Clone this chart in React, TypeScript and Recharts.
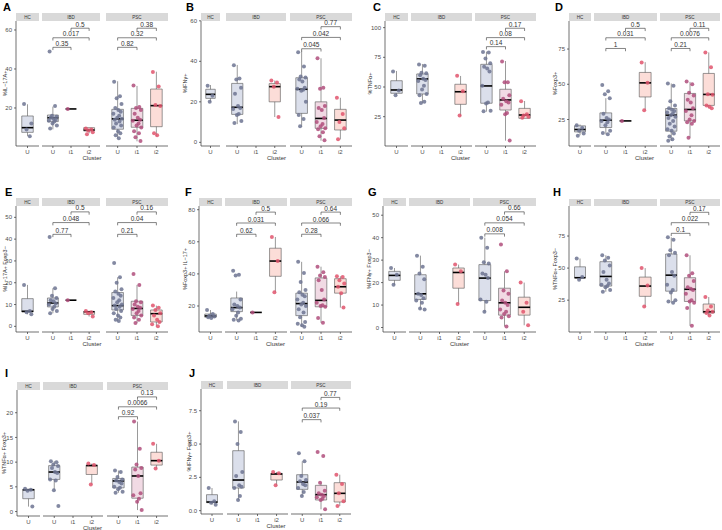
import React from 'react';
import { ComposedChart, Scatter, XAxis, YAxis, ReferenceArea, ReferenceLine } from 'recharts';

const FONT = '"Liberation Sans", Arial, Helvetica, sans-serif';
const FACET_NAMES = ['HC', 'IBD', 'PSC'];
const FACET_CATS = [['U'], ['U', 'i1', 'i2'], ['U', 'i1', 'i2']];
// group order: HC-U, IBD-U, IBD-i1, IBD-i2, PSC-U, PSC-i1, PSC-i2
const GROUP_SLOTS = [[0, 0], [1, 0], [1, 1], [1, 2], [2, 0], [2, 1], [2, 2]];
const JITTER = [-0.18, 0.12, -0.05, 0.2, -0.12, 0.04, 0.16, -0.22, 0.08, -0.02, 0.22, -0.15, 0.1, -0.08, 0.18, -0.2, 0.02, 0.14, -0.1, 0.06, -0.16];
const FILL: Record<string, string> = { U: '#d5d9e7', i1: '#efd3df', i2: '#fbd7d1' };
const DOT: Record<string, string> = { U: '#6d7492', i1: '#b04f7d', i2: '#e0556d' };

// ---------- Panel A ----------
const A_domain = [0.5, 64.6];
const A_ticks = [20, 40, 60];
const A_points = [
  [22, 5.5, 9, 12],
  [49, 21, 16, 15.5, 15, 14.5, 14, 13.5, 13, 12, 11, 9.5],
  [19.5],
  [9.5, 9, 8.5, 7.5, 6.5],
  [33.5, 26, 25, 22, 20, 19, 18, 17, 16, 15, 14.5, 14, 13, 12, 11, 10, 8, 7, 6, 4.5],
  [31.5, 20.5, 20, 19, 17, 15, 14, 13.5, 12, 11, 10, 8, 7, 5, 3],
  [38.5, 31, 21.5, 21, 7, 6],
];
const A_boxes = [
  [5.6, 7.5, 9.9, 15.9, 21.9],
  [9, 13, 15, 16.4, 20.7],
  [19.5, 19.5, 19.5, 19.5, 19.5],
  [7, 8.2, 8.7, 9.9, 9.9],
  [4.5, 9.1, 14.4, 19.3, 33.7],
  [2.9, 10.1, 13.7, 19.8, 31.3],
  [5.6, 10.4, 21.2, 29.7, 38.6],
];
const A_brackets: [number, number, number, number, string][] = [
  [1, 0, 1, 51.1, '0.35'], [1, 0, 2, 56, '0.017'], [1, 1, 2, 60.9, '0.5'],
  [2, 0, 1, 51.1, '0.82'], [2, 0, 2, 56, '0.32'], [2, 1, 2, 60.9, '0.38'],
];

// ---------- Panel B ----------
const B_domain = [-1.8, 59.9];
const B_ticks = [0, 20, 40, 60];
const B_points = [
  [28, 23, 20],
  [38, 31.5, 31, 27, 24, 18, 17, 16.5, 14, 13.5, 10.5, 9.5],
  [],
  [30.5, 29.5, 27.5, 12.5],
  [44.5, 37.5, 32.5, 32, 31, 30, 27, 26.5, 26, 25.5, 20, 13.5, 11.5, 8],
  [41.5, 27, 26.5, 18, 17, 16, 12, 10, 9, 8, 7, 6.5, 5, 3, 1],
  [22, 14, 10, 7, 1.5],
];
const B_boxes = [
  [20, 21.7, 23.7, 26.2, 28.3],
  [9, 13.8, 17.3, 29.1, 38.2],
  null,
  [12.5, 20, 27.5, 29, 30.5],
  [7.7, 14.3, 26.2, 31.9, 45.2],
  [0.8, 6.9, 11.8, 20, 41.5],
  [1.5, 6.1, 11, 16.3, 22],
];
const B_brackets: [number, number, number, number, string][] = [
  [2, 0, 1, 46.2, '0.045'], [2, 0, 2, 51.8, '0.042'], [2, 1, 2, 57.1, '0.77'],
];

// ---------- Panel C ----------
const C_domain = [0.3, 105.6];
const C_ticks = [25, 50, 75, 100];
const C_points = [
  [63, 47, 43],
  [69, 68, 62, 61.5, 60, 57, 56, 55, 51, 48, 44, 43, 37.5, 36.5],
  [],
  [59.5, 46.5, 26],
  [79.5, 79, 74, 70, 67, 65.5, 63, 51, 37, 36, 30, 29.5],
  [71.5, 54, 54, 43, 40, 38, 37, 35, 28, 27, 5],
  [38, 27, 26, 25, 24],
];
const C_boxes = [
  [43, 44.7, 47.5, 55.3, 63.5],
  [36.3, 44.1, 56.8, 61, 69.4],
  null,
  [25.6, 35.4, 46, 52.3, 59.3],
  [29.2, 36.3, 50.9, 69.1, 79.8],
  [4.8, 30.6, 39.1, 48.1, 71.9],
  [23.6, 23.6, 26.4, 32, 38.2],
];
const C_brackets: [number, number, number, number, string][] = [
  [2, 0, 1, 84, '0.14'], [2, 0, 2, 91.6, '0.08'], [2, 1, 2, 99.5, '0.17'],
];

// ---------- Panel D ----------
const D_domain = [6.2, 94.9];
const D_ticks = [25, 50, 75];
const D_points = [
  [21, 19, 17, 15, 13.5],
  [49.5, 45, 43, 40, 29, 26, 25, 24, 23, 21, 17, 15.5, 14.5],
  [24],
  [65.5, 51, 31.5],
  [50.5, 49, 38, 35, 33, 32, 31, 30, 29, 28, 27, 26, 24, 22, 20, 18, 17, 15, 13, 11, 10],
  [52, 50, 44, 42, 39, 37, 33, 31, 28, 25, 24, 23, 22, 12],
  [72.5, 62, 43, 42.5, 35, 34, 33],
];
const D_boxes = [
  [13.8, 16.2, 17.9, 20.5, 21.5],
  [14.6, 19.3, 24.5, 29.7, 40.1],
  [24, 24, 24, 24, 24],
  [31.6, 41, 51, 58.4, 65.7],
  [9.8, 16.7, 28.1, 32.8, 50.6],
  [12.2, 24, 32.1, 43.5, 51.7],
  [33, 35, 42.8, 57.7, 72.6],
];
const D_brackets: [number, number, number, number, string][] = [
  [1, 0, 1, 75.4, '1'], [1, 0, 2, 83, '0.031'], [1, 1, 2, 89.7, '0.5'],
  [2, 0, 1, 75.4, '0.21'], [2, 0, 2, 83, '0.0076'], [2, 1, 2, 89.7, '0.11'],
];

// ---------- Panel E ----------
const E_domain = [-2.6, 55.2];
const E_ticks = [0, 10, 20, 30, 40, 50];
const E_points = [
  [19, 7, 6.5, 5.5],
  [41, 17.5, 14, 13, 12, 11.5, 10.5, 10, 9, 8, 7, 6],
  [12],
  [7, 6.5, 6, 4.5],
  [29, 22.5, 20, 17, 16, 15, 14, 13, 12, 11, 10, 9.5, 9, 8, 7, 6, 5, 4, 3, 2.5],
  [24, 19, 11.5, 11, 10, 9, 8.5, 8, 7, 6, 5, 4, 3, 1.5],
  [9.5, 8.5, 7.5, 6, 5, 3, 2, 1, 0],
];
const E_boxes = [
  [5.5, 6.6, 6.9, 12.7, 19],
  [6, 8.9, 10.7, 13, 17.5],
  [12, 12, 12, 12, 12],
  [4.5, 5.5, 6.7, 6.8, 7],
  [2.5, 7.5, 9.5, 15.5, 22.5],
  [1.5, 5, 8.2, 11.5, 19],
  [0, 2, 5.8, 7.5, 9.5],
];
const E_brackets: [number, number, number, number, string][] = [
  [1, 0, 1, 42.2, '0.77'], [1, 0, 2, 47.6, '0.048'], [1, 1, 2, 52.5, '0.5'],
  [2, 0, 1, 42.2, '0.21'], [2, 0, 2, 47.6, '0.04'], [2, 1, 2, 52.5, '0.16'],
];

// ---------- Panel F ----------
const F_domain = [3.8, 82.3];
const F_ticks = [20, 40, 60, 80];
const F_points = [
  [17.5, 15, 14, 13.5, 13, 12.5],
  [42, 39.5, 39, 24, 21, 20, 19, 18, 16, 14, 12, 11.5, 11],
  [16],
  [63, 48, 28.5],
  [47.5, 40.5, 35, 30, 28.5, 27, 26, 24, 22, 21, 20, 18, 16, 13, 10, 9, 8, 7],
  [44.5, 41, 39, 38, 36, 30, 24, 22, 20.5, 20, 19.5, 12.5, 9.5],
  [38.5, 38, 36, 34, 32, 28, 19],
];
const F_boxes = [
  [12.5, 13, 13.8, 15, 17.5],
  [11, 16.5, 19, 25, 29],
  [16, 16, 16, 16, 16],
  [28.5, 38.5, 48, 56, 63],
  [7, 14, 21.5, 28, 47.5],
  [9.5, 19.5, 23.5, 37.5, 44.5],
  [19, 28, 32, 37, 38.5],
];
const F_brackets: [number, number, number, number, string][] = [
  [1, 0, 1, 64.7, '0.62'], [1, 0, 2, 71.7, '0.031'], [1, 1, 2, 78.5, '0.5'],
  [2, 0, 1, 64.7, '0.28'], [2, 0, 2, 71.7, '0.066'], [2, 1, 2, 78.5, '0.64'],
];

// ---------- Panel G ----------
const G_domain = [-2, 54.1];
const G_ticks = [0, 10, 20, 30, 40, 50];
const G_points = [
  [26.5, 23.5, 19],
  [32, 27, 24, 21.5, 15, 14.5, 13, 12, 11, 8.5, 8],
  [],
  [28, 25, 10.5],
  [40, 35.5, 29, 28.5, 24, 23.5, 22, 12.5, 11.5, 7],
  [37, 25, 16.5, 15, 12, 11, 10, 8, 7, 6, 5, 4.5, 0.5],
  [20, 11, 7, 1],
];
const G_boxes = [
  [19, 21, 23.2, 25, 26.5],
  [8, 12.5, 15, 23.5, 32],
  null,
  [10.5, 17.5, 24.5, 26.5, 28],
  [7, 12, 22, 28, 40],
  [0.5, 5.5, 11, 17.5, 25],
  [1, 5.5, 9, 13.5, 20],
];
const G_brackets: [number, number, number, number, string][] = [
  [2, 0, 1, 41.7, '0.008'], [2, 0, 2, 46.6, '0.054'], [2, 1, 2, 51.5, '0.66'],
];

// ---------- Panel H ----------
const H_domain = [0.2, 98.4];
const H_ticks = [25, 50, 75];
const H_points = [
  [57.5, 43, 41],
  [60, 58, 56, 52, 47, 41, 38, 37, 36, 35, 33, 31.5],
  [],
  [50, 36.5, 20],
  [74, 72, 64, 62, 60, 47, 44, 37, 33, 31, 25, 24, 23],
  [60, 46, 44, 40, 35, 34, 33, 30, 25, 24, 23, 19, 5],
  [27.5, 20, 17, 16, 15, 13],
];
const H_boxes = [
  [41, 42.5, 42.5, 51, 57.5],
  [31.5, 36, 43.5, 55, 60],
  null,
  [20, 28, 36, 43, 50],
  [23, 32, 44.5, 61, 74],
  [5, 24, 33.5, 42.5, 60],
  [13, 15, 16, 22, 27.5],
];
const H_brackets: [number, number, number, number, string][] = [
  [2, 0, 1, 77.1, '0.1'], [2, 0, 2, 85.4, '0.022'], [2, 1, 2, 93.5, '0.17'],
];

// ---------- Panel I ----------
const I_domain = [-0.9, 24.6];
const I_ticks = [0, 5, 10, 15, 20];
const I_points = [
  [4.6, 4.4, 4.2, 1],
  [10.2, 10, 9.5, 9.2, 8.8, 8, 7.8, 6.5, 6.3, 4.3, 1.1],
  [],
  [9.7, 9.4, 5.5],
  [8.3, 8, 7, 6.5, 6.3, 6, 5.7, 5, 4.8, 4.5, 4, 3.8],
  [18.2, 12.7, 9.5, 8.8, 8.5, 7.2, 3.7, 3.3, 2.6, 2, 0.3],
  [13.7, 10.3, 8.7],
];
const I_boxes = [
  [1, 2.6, 4.4, 4.5, 4.6],
  [4.3, 6.5, 8, 9.3, 10.2],
  null,
  [5.5, 7.5, 9.3, 9.4, 9.7],
  [3.8, 4.8, 6.2, 6.7, 8.3],
  [0.3, 2.7, 7.2, 9, 18.2],
  [8.7, 9.4, 10.3, 12, 13.7],
];
const I_brackets: [number, number, number, number, string][] = [
  [2, 0, 1, 19.2, '0.92'], [2, 0, 2, 21.2, '0.0066'], [2, 1, 2, 23.2, '0.13'],
];

// ---------- Panel J ----------
const J_domain = [-0.25, 9.13];
const J_ticks = [0, 2.5, 5, 7.5];
const J_points = [
  [1.7, 0.7, 0.6, 0.45],
  [6.7, 5.9, 5, 2.9, 2.6, 1.9, 1.8, 1.7, 1.1, 0.8],
  [],
  [2.9, 2.8, 1.9],
  [4.3, 3.7, 2.6, 2.3, 2.2, 2, 1.9, 1.7, 1.4, 1.1],
  [4.4, 4.1, 2.1, 1.5, 1.3, 1.2, 1.1, 1, 0.9, 0.8, 0.1],
  [2.7, 2, 1.3, 0.7, 0.35],
];
const J_boxes = [
  [0.45, 0.6, 0.65, 1.2, 1.7],
  [0.8, 1.7, 2.3, 4.5, 6.7],
  null,
  [1.9, 2.3, 2.75, 2.8, 2.9],
  [1.1, 1.6, 2.15, 2.7, 3.7],
  [0.1, 0.8, 1.2, 1.9, 2.1],
  [0.35, 0.65, 1.3, 2.1, 2.7],
];
const J_brackets: [number, number, number, number, string][] = [
  [2, 0, 1, 6.83, '0.037'], [2, 0, 2, 7.7, '0.19'], [2, 1, 2, 8.5, '0.77'],
];

// ---------- layout (pixels) ----------
type Layout = { ox: number; oy: number; facets: number[][]; stripTop: number; plotTop: number; axisY: number; letterX: number; letterY: number; labelX: number };
const L_A: Layout = { ox: 0, oy: 0, facets: [[16, 39], [42, 100], [106, 168]], stripTop: 13, plotTop: 21, axisY: 146, letterX: 3, letterY: 11, labelX: 5 };
const L_B: Layout = { ox: 180, oy: 0, facets: [[21, 40], [46, 106], [110, 172]], stripTop: 13, plotTop: 21, axisY: 146, letterX: 6, letterY: 11, labelX: 5 };
const L_C: Layout = { ox: 360, oy: 0, facets: [[25, 48], [51, 112], [115, 176]], stripTop: 13, plotTop: 21, axisY: 146, letterX: 13, letterY: 11, labelX: 10 };
const L_D: Layout = { ox: 540, oy: 0, facets: [[29, 51], [54, 117], [120, 180]], stripTop: 13, plotTop: 21, axisY: 146, letterX: 15, letterY: 11, labelX: 15 };
const L_E: Layout = { ox: 0, oy: 175, facets: [[16, 39], [42, 100], [106, 168]], stripTop: 23, plotTop: 31, axisY: 157, letterX: 5, letterY: 21, labelX: 5 };
const L_F: Layout = { ox: 180, oy: 175, facets: [[19, 42], [45, 107], [110, 172]], stripTop: 23, plotTop: 31, axisY: 157, letterX: 5, letterY: 21, labelX: 5 };
const L_G: Layout = { ox: 360, oy: 175, facets: [[23, 46], [49, 110], [113, 176]], stripTop: 23, plotTop: 31, axisY: 157, letterX: 8, letterY: 21, labelX: 9 };
const L_H: Layout = { ox: 540, oy: 175, facets: [[29, 51], [54, 117], [120, 180]], stripTop: 24, plotTop: 31, axisY: 157, letterX: 13, letterY: 21, labelX: 15 };
const L_I: Layout = { ox: 0, oy: 350, facets: [[17, 40], [43, 103], [107, 168]], stripTop: 32, plotTop: 40, axisY: 166, letterX: 5, letterY: 27, labelX: 4 };
const L_J: Layout = { ox: 180, oy: 350, facets: [[21, 43], [47, 108], [111, 171]], stripTop: 31, plotTop: 39, axisY: 164, letterX: 9, letterY: 27, labelX: 9 };

const intFmt = (v: number) => String(v);
const oneDec = (v: number) => v.toFixed(1);

const PANELS = [
  { letter: 'A', ylabel: '%IL−17A+', domain: A_domain, ticks: A_ticks, points: A_points, boxes: A_boxes, brackets: A_brackets, fmt: intFmt, L: L_A },
  { letter: 'B', ylabel: '%IFNγ+', domain: B_domain, ticks: B_ticks, points: B_points, boxes: B_boxes, brackets: B_brackets, fmt: intFmt, L: L_B },
  { letter: 'C', ylabel: '%TNFα+', domain: C_domain, ticks: C_ticks, points: C_points, boxes: C_boxes, brackets: C_brackets, fmt: intFmt, L: L_C },
  { letter: 'D', ylabel: '%Foxp3+', domain: D_domain, ticks: D_ticks, points: D_points, boxes: D_boxes, brackets: D_brackets, fmt: intFmt, L: L_D },
  { letter: 'E', ylabel: '%IL−17A+ Foxp3−', domain: E_domain, ticks: E_ticks, points: E_points, boxes: E_boxes, brackets: E_brackets, fmt: intFmt, L: L_E },
  { letter: 'F', ylabel: '%Foxp3+ IL−17+', domain: F_domain, ticks: F_ticks, points: F_points, boxes: F_boxes, brackets: F_brackets, fmt: intFmt, L: L_F },
  { letter: 'G', ylabel: '%IFNγ+ Foxp3−', domain: G_domain, ticks: G_ticks, points: G_points, boxes: G_boxes, brackets: G_brackets, fmt: intFmt, L: L_G },
  { letter: 'H', ylabel: '%TNFα+ Foxp3−', domain: H_domain, ticks: H_ticks, points: H_points, boxes: H_boxes, brackets: H_brackets, fmt: intFmt, L: L_H },
  { letter: 'I', ylabel: '%TNFα+ Foxp3+', domain: I_domain, ticks: I_ticks, points: I_points, boxes: I_boxes, brackets: I_brackets, fmt: intFmt, L: L_I },
  { letter: 'J', ylabel: '%IFNγ+ Foxp3+', domain: J_domain, ticks: J_ticks, points: J_points, boxes: J_boxes, brackets: J_brackets, fmt: oneDec, L: L_J },
];

type Panel = typeof PANELS[number];

const TOP_PAD = 10;
const X_H = 14;

function Facet({ p, f }: { p: Panel; f: number }) {
  const L = p.L;
  const [l, r] = L.facets[f];
  const cats = FACET_CATS[f];
  const n = cats.length;
  const first = f === 0;
  const yw = first ? 24 : 0;
  const plotH = L.axisY - L.plotTop;
  const h = TOP_PAD + plotH + X_H;
  const [d0, d1] = p.domain;
  const leg = (d1 - d0) * 0.022;
  const slots = GROUP_SLOTS.map((s, gi) => ({ s, gi })).filter((o) => o.s[0] === f);

  const boxEls: any[] = [];
  slots.forEach(({ s, gi }) => {
    const ci = s[1];
    const cat = cats[ci];
    const b = p.boxes[gi];
    if (!b) return;
    const [mn, q1, md, q3, mx] = b;
    boxEls.push(<ReferenceLine key={`wu${gi}`} segment={[{ x: ci, y: q3 }, { x: ci, y: mx }]} stroke="#555" strokeWidth={0.6} ifOverflow="visible" />);
    boxEls.push(<ReferenceLine key={`wl${gi}`} segment={[{ x: ci, y: q1 }, { x: ci, y: mn }]} stroke="#555" strokeWidth={0.6} ifOverflow="visible" />);
    boxEls.push(<ReferenceArea key={`bx${gi}`} x1={ci - 0.3} x2={ci + 0.3} y1={q1} y2={q3} fill={FILL[cat]} fillOpacity={0.85} stroke="#555" strokeWidth={0.6} ifOverflow="visible" />);
    boxEls.push(<ReferenceLine key={`md${gi}`} segment={[{ x: ci - 0.3, y: md }, { x: ci + 0.3, y: md }]} stroke="#000" strokeWidth={1.6} ifOverflow="visible" />);
  });

  const scatters = slots.map(({ s, gi }) => {
    const ci = s[1];
    const cat = cats[ci];
    const data = p.points[gi].map((v, k) => ({ x: ci + JITTER[k % JITTER.length], y: v }));
    return (
      <Scatter
        key={`sc${gi}`}
        data={data}
        isAnimationActive={false}
        shape={(sp: any) => <circle cx={sp.cx} cy={sp.cy} r={2} fill={DOT[cat]} fillOpacity={0.85} />}
      />
    );
  });

  const brEls: any[] = [];
  p.brackets.filter((b) => b[0] === f).forEach(([, a, c, y, txt], i) => {
    brEls.push(
      <ReferenceLine key={`bh${i}`} segment={[{ x: a, y }, { x: c, y }]} stroke="#333" strokeWidth={0.6} ifOverflow="visible"
        label={{ value: txt, position: 'top', fontSize: 6.5, fill: '#333', offset: 1.5 }} />
    );
    brEls.push(<ReferenceLine key={`bl${i}`} segment={[{ x: a, y }, { x: a, y: y - leg }]} stroke="#333" strokeWidth={0.6} ifOverflow="visible" />);
    brEls.push(<ReferenceLine key={`br${i}`} segment={[{ x: c, y }, { x: c, y: y - leg }]} stroke="#333" strokeWidth={0.6} ifOverflow="visible" />);
  });

  return (
    <div style={{ position: 'absolute', left: L.ox + l - yw, top: L.oy + L.plotTop - TOP_PAD }}>
      <ComposedChart width={r - l + yw} height={h} margin={{ top: TOP_PAD, right: 0, bottom: 0, left: 0 }}>
        <XAxis
          type="number"
          dataKey="x"
          domain={[-0.6, n - 0.4]}
          ticks={cats.map((_, i) => i)}
          tickFormatter={(v: number) => cats[v] ?? ''}
          allowDataOverflow
          interval={0}
          height={X_H}
          tickSize={2}
          tick={{ fontSize: 6, fill: '#4d4d4d' }}
          stroke="#333"
          strokeWidth={0.7}
        />
        <YAxis
          type="number"
          dataKey="y"
          domain={p.domain}
          allowDataOverflow
          hide={!first}
          width={yw}
          ticks={p.ticks}
          interval={0}
          tickFormatter={p.fmt}
          tickSize={2}
          tick={{ fontSize: 6, fill: '#4d4d4d' }}
          stroke="#333"
          strokeWidth={0.7}
        />
        {boxEls}
        {scatters}
        {brEls}
      </ComposedChart>
    </div>
  );
}

function Overlay() {
  const els: any[] = [];
  PANELS.forEach((p) => {
    const L = p.L;
    els.push(
      <text key={`lt${p.letter}`} x={L.ox + L.letterX} y={L.oy + L.letterY} fontSize={11} fontWeight="bold" fill="#000">{p.letter}</text>
    );
    const cy = L.oy + (L.plotTop + L.axisY) / 2;
    const lx = L.ox + L.labelX + 2;
    els.push(
      <text key={`yl${p.letter}`} x={lx} y={cy} fontSize={5.5} fill="#333" textAnchor="middle" transform={`rotate(-90 ${lx} ${cy})`}>{p.ylabel}</text>
    );
    L.facets.forEach(([l, r], f) => {
      els.push(<rect key={`st${p.letter}${f}`} x={L.ox + l} y={L.oy + L.stripTop} width={r - l} height={L.plotTop - L.stripTop} fill="#d9d9d9" />);
      els.push(
        <text key={`sx${p.letter}${f}`} x={L.ox + (l + r) / 2} y={L.oy + L.stripTop + (L.plotTop - L.stripTop) / 2 + 1.6} fontSize={4.5} fill="#333" textAnchor="middle">{FACET_NAMES[f]}</text>
      );
    });
    const cx = L.ox + (L.facets[0][0] + L.facets[2][1]) / 2;
    els.push(
      <text key={`cl${p.letter}`} x={cx} y={L.oy + L.axisY + 13.5} fontSize={6} fill="#333" textAnchor="middle">Cluster</text>
    );
  });
  return (
    <svg width={722} height={530} style={{ position: 'absolute', left: 0, top: 0 }} fontFamily={FONT}>
      <rect x={0} y={0} width={722} height={530} fill="#fff" />
      {els}
    </svg>
  );
}

export default function App() {
  return (
    <div style={{ position: 'absolute', left: 0, top: 0, width: 722, height: 530, background: '#fff', fontFamily: FONT, overflow: 'hidden' }}>
      <Overlay />
      {PANELS.map((p) => [0, 1, 2].map((f) => <Facet key={`${p.letter}${f}`} p={p} f={f} />))}
    </div>
  );
}
